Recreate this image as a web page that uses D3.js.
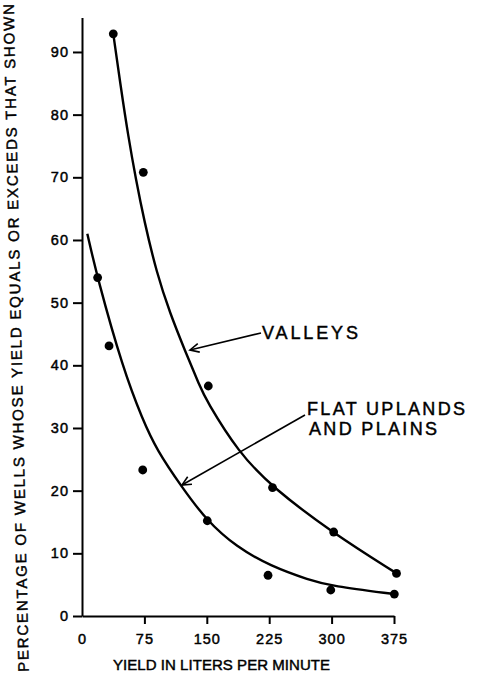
<!DOCTYPE html>
<html><head><meta charset="utf-8">
<script src="https://cdn.jsdelivr.net/npm/d3@7"></script>
<style>body{margin:0;background:#fff}svg{display:block}</style>
</head><body>
<script>
// ---- data ----
const xTicks = [0, 75, 150, 225, 300, 375];
const yTicks = [0, 10, 20, 30, 40, 50, 60, 70, 80, 90];
const valleysX = [37.6, 73.7, 151.8, 229, 302.5, 378];
const valleysY = [92.9, 70.8, 36.7, 20.5, 13.4, 6.8];
const flatX = [18.8, 32.5, 73, 150.6, 223.6, 299, 375.4];
const flatY = [54.0, 43.1, 23.3, 15.2, 6.5, 4.15, 3.5];
// fitted curves
const valleysCurveX = [37.6, 46.5, 55.6, 64.9, 74.5, 89.8, 105.8, 123.6, 141.8, 149.0, 187.9, 229.9, 302.0, 378.2];
const valleysCurveY = [92.9, 84.5, 76.5, 69.6, 63.2, 54.7, 48.3, 42.4, 36.6, 34.5, 26.1, 20.4, 13.2, 6.8];
const flatCurveX = [6.4, 18.4, 49.6, 73.0, 89.8, 119.8, 149.9, 185.9, 226.0, 274.0, 299.3, 375.4];
const flatCurveY = [61.0, 54.0, 39.3, 31.3, 26.5, 20.6, 15.2, 11.0, 8.0, 5.7, 4.8, 3.5];
const labels = ["VALLEYS", "FLAT UPLANDS", "AND PLAINS"];
const xTitle = "YIELD IN LITERS PER MINUTE";
const yTitle = "PERCENTAGE OF WELLS WHOSE YIELD EQUALS OR EXCEEDS THAT SHOWN";

const W = 481, H = 675;
const svg = d3.select("body").append("svg").attr("width", W).attr("height", H);
const font = "'Liberation Sans', Arial, sans-serif";

const x = d3.scaleLinear().domain([0, 375]).range([82, 394]);
const y = d3.scaleLinear().domain([0, 95.5]).range([616, 17.5]);

function ink(sel) { return sel.attr("fill", "#000").attr("stroke", "#000").attr("stroke-width", 0.45); }

// axes
const gx = svg.append("g").attr("transform", `translate(0,${y(0)})`)
  .call(d3.axisBottom(x).tickValues(xTicks).tickSize(8).tickSizeOuter(0).tickPadding(7).tickFormat(d3.format("d")));
const gy = svg.append("g").attr("transform", `translate(${x(0)},0)`)
  .call(d3.axisLeft(y).tickValues(yTicks).tickSize(9).tickSizeOuter(0).tickPadding(4).tickFormat(d3.format("d")));
[gx, gy].forEach(g => {
  g.select(".domain").attr("stroke", "#000").attr("stroke-width", 2);
  g.selectAll(".tick line").attr("stroke", "#000").attr("stroke-width", 2);
  ink(g.selectAll(".tick text").attr("font-family", font).attr("font-size", 14.5).attr("letter-spacing", 1));
});
gx.selectAll(".tick").filter(d => d === 0).select("line").remove();
gx.selectAll(".tick text").attr("dy", "0.9em");

// curves
const line = d3.line().x(d => x(d[0])).y(d => y(d[1])).curve(d3.curveBasis);
svg.append("path").datum(d3.zip(valleysCurveX, valleysCurveY)).attr("d", line)
  .attr("fill", "none").attr("stroke", "#000").attr("stroke-width", 2.4);
svg.append("path").datum(d3.zip(flatCurveX, flatCurveY)).attr("d", line)
  .attr("fill", "none").attr("stroke", "#000").attr("stroke-width", 2.4);

// points
svg.append("g").selectAll("circle").data(d3.zip(valleysX, valleysY)).join("circle")
  .attr("cx", d => x(d[0])).attr("cy", d => y(d[1])).attr("r", 4.4).attr("fill", "#000");
svg.append("g").selectAll("circle").data(d3.zip(flatX, flatY)).join("circle")
  .attr("cx", d => x(d[0])).attr("cy", d => y(d[1])).attr("r", 4.4).attr("fill", "#000");

// annotations
function arrow(x1, y1, x2, y2) {
  svg.append("line").attr("x1", x1).attr("y1", y1).attr("x2", x2).attr("y2", y2)
    .attr("stroke", "#000").attr("stroke-width", 1.6);
  const a = Math.atan2(y1 - y2, x1 - x2), L = 10, s = 0.45;
  svg.append("path").attr("d",
    `M${x2 + L * Math.cos(a + s)},${y2 + L * Math.sin(a + s)}L${x2},${y2}L${x2 + L * Math.cos(a - s)},${y2 + L * Math.sin(a - s)}`)
    .attr("fill", "none").attr("stroke", "#000").attr("stroke-width", 1.6);
}
ink(svg.append("text").attr("x", 262).attr("y", 339).text(labels[0])
  .attr("font-family", font).attr("font-size", 18).attr("textLength", 96).attr("lengthAdjust", "spacing"));
arrow(261, 333, 190, 350);
ink(svg.append("text").attr("x", 307).attr("y", 415).text(labels[1])
  .attr("font-family", font).attr("font-size", 18).attr("textLength", 158).attr("lengthAdjust", "spacing"));
ink(svg.append("text").attr("x", 309).attr("y", 435).text(labels[2])
  .attr("font-family", font).attr("font-size", 18).attr("textLength", 128).attr("lengthAdjust", "spacing"));
arrow(305, 415, 182, 485);

// titles
ink(svg.append("text").attr("x", 113).attr("y", 670).text(xTitle)
  .attr("font-family", font).attr("font-size", 15).attr("textLength", 217).attr("lengthAdjust", "spacing"));
ink(svg.append("text").attr("transform", "translate(16,338) rotate(-91.3)")
  .attr("text-anchor", "middle").attr("dy", "0.35em").text(yTitle)
  .attr("font-family", font).attr("font-size", 15).attr("textLength", 668).attr("lengthAdjust", "spacing"));
</script>
</body></html>
